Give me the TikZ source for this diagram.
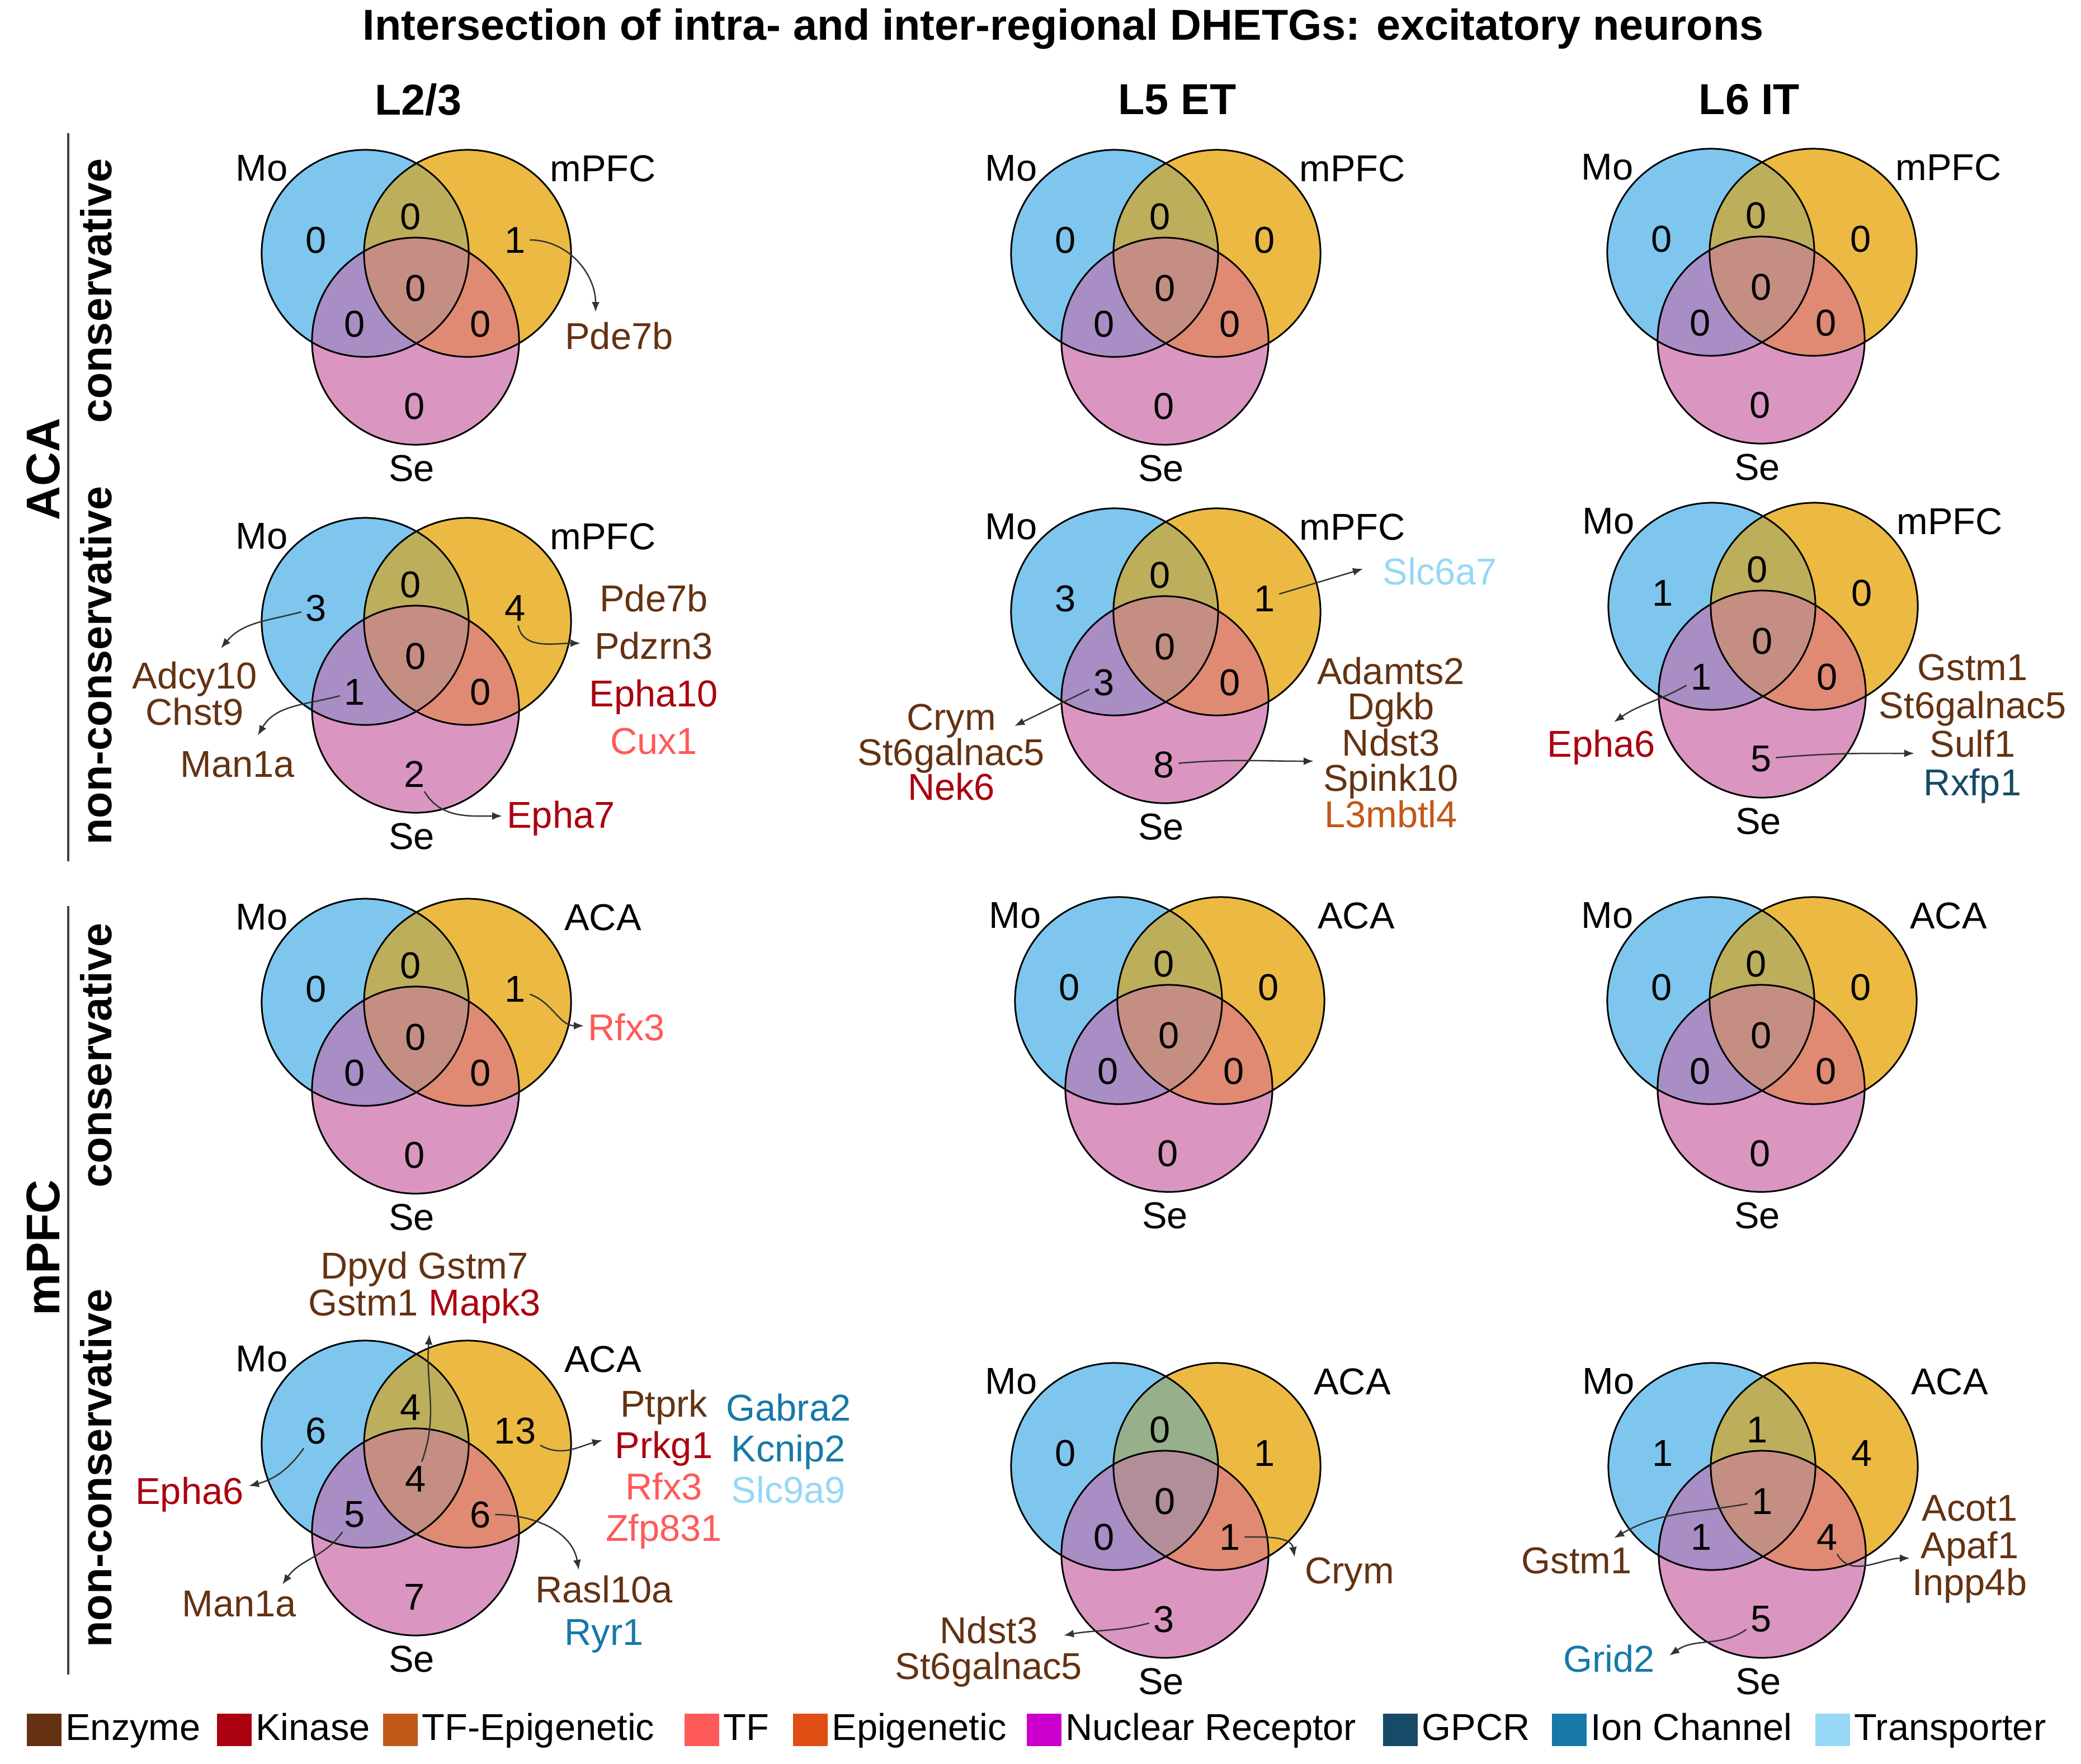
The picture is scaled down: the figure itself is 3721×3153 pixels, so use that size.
\documentclass[tikz,border=0pt]{standalone}
\usepackage{xcolor}
\usepackage{fontspec}
\setmainfont{Liberation Sans}
\usepackage{tikz}
\usetikzlibrary{positioning, arrows.meta}
\definecolor{vennmo}{RGB}{126,198,238}
\definecolor{vennx}{RGB}{236,186,66}
\definecolor{vennse}{RGB}{218,150,192}
\definecolor{vennmx}{RGB}{189,174,92}
\definecolor{vennmxg}{RGB}{150,176,140}
\definecolor{vennms}{RGB}{168,142,196}
\definecolor{vennxs}{RGB}{224,138,115}
\definecolor{vennall}{RGB}{196,142,130}
\definecolor{vennallg}{RGB}{178,142,152}
\definecolor{enzyme}{RGB}{100,50,18}
\definecolor{kinase}{RGB}{170,0,15}
\definecolor{tfepi}{RGB}{192,88,26}
\definecolor{tfactor}{RGB}{255,90,90}
\definecolor{epigen}{RGB}{224,78,20}
\definecolor{nucrec}{RGB}{204,0,204}
\definecolor{gpcr}{RGB}{22,74,102}
\definecolor{ionch}{RGB}{22,121,168}
\definecolor{transp}{RGB}{150,216,245}

\newcommand{\gEnz}[1]{\textcolor{enzyme}{#1}}
\newcommand{\gKin}[1]{\textcolor{kinase}{#1}}
\newcommand{\gTfe}[1]{\textcolor{tfepi}{#1}}
\newcommand{\gTf}[1]{\textcolor{tfactor}{#1}}
\newcommand{\gGpcr}[1]{\textcolor{gpcr}{#1}}
\newcommand{\gIon}[1]{\textcolor{ionch}{#1}}
\newcommand{\gTrn}[1]{\textcolor{transp}{#1}}

\tikzset{
    vennline/.style={draw=black, line width=0.85pt},
    num/.style={inner sep=2pt, font=\fontsize{19}{22}\selectfont},
    vlab/.style={inner sep=0pt, font=\fontsize{19}{22}\selectfont},
    genes/.style={align=center, inner sep=0pt, font=\fontsize{19}{#1}\selectfont},
    genes/.default=22,
    arr/.style={draw=black!80, line width=0.7pt, -{Latex[length=0.18cm, width=0.14cm]}},
    heading/.style={inner sep=0pt, font=\bfseries\fontsize{22}{26}\selectfont},
    rowlab/.style={inner sep=0pt, rotate=90, font=\bfseries\fontsize{22}{26}\selectfont},
    sepline/.style={draw=black!75, line width=1.4pt},
    swatch/.style={minimum width=0.62cm, minimum height=0.58cm, inner sep=0pt},
    legtxt/.style={inner sep=0pt, text height=0.5cm, text depth=0.13cm, font=\fontsize{19}{22}\selectfont}
}

\newcommand{\vrad}{1.85cm}
% #1 colour variant, #2 name, #3 centre of Mo circle, #4 second region
\newcommand{\venn}[4][]{%
    \begin{scope}[shift={(#3)}]
        \fill[vennmo] (0,0) circle[radius=\vrad];
        \fill[vennx] (183,0) circle[radius=\vrad];
        \fill[vennse] (90,157) circle[radius=\vrad];
        \begin{scope}
            \clip (0,0) circle[radius=\vrad];
            \fill[vennmx#1] (183,0) circle[radius=\vrad];
            \fill[vennms] (90,157) circle[radius=\vrad];
        \end{scope}
        \begin{scope}
            \clip (183,0) circle[radius=\vrad];
            \fill[vennxs] (90,157) circle[radius=\vrad];
        \end{scope}
        \begin{scope}
            \clip (0,0) circle[radius=\vrad];
            \clip (183,0) circle[radius=\vrad];
            \fill[vennall#1] (90,157) circle[radius=\vrad];
        \end{scope}
        \draw[vennline] (0,0) circle[radius=\vrad] (183,0) circle[radius=\vrad] (90,157) circle[radius=\vrad];
        \coordinate (#2-mo) at (-88,-24);
        \coordinate (#2-mx) at (81,-66);
        \coordinate (#2-x) at (268,-24);
        \coordinate (#2-all) at (90,62);
        \coordinate (#2-ms) at (-19,126);
        \coordinate (#2-xs) at (206,126);
        \coordinate (#2-se) at (88,273);
        \node[vlab] (#2-lmo) at (-185,-152) {Mo};
        \node[vlab] (#2-lx) at (425,-152) {#4};
        \node[vlab] (#2-lse) at (83,384) {Se};
    \end{scope}}
\newcommand{\vcounts}[8]{%
    \foreach \reg/\val in {mo/#2,mx/#3,x/#4,all/#5,ms/#6,xs/#7,se/#8}
        \node[num] (#1-n\reg) at (#1-\reg) {\val};}

\begin{document}
\begin{tikzpicture}[x=0.01cm, y=-0.01cm]
    \useasboundingbox (0,0) rectangle (3721,3153);

    \node[heading] (title) at (1901,52) {Intersection of intra- and inter-regional DHETGs: excitatory neurons};
    \node[heading] (col-l23) at (748,178) {L2/3};
    \node[heading] (col-l5et) at (2105,178) {L5 ET};
    \node[heading] (col-l6it) at (3128,178) {L6 IT};

    \draw[sepline] (122,238) -- (122,1540);
    \draw[sepline] (122,1620) -- (122,2994);
    \node[rowlab, font=\bfseries\fontsize{24}{28}\selectfont] (row-aca) at (77,839) {ACA};
    \node[rowlab, font=\bfseries\fontsize{24}{28}\selectfont] (row-mpfc) at (77,2231) {mPFC};
    \node[rowlab] (row-ac) at (172,520) {conservative};
    \node[rowlab] (row-an) at (172,1190) {non-conservative};
    \node[rowlab] (row-mc) at (172,1887) {conservative};
    \node[rowlab] (row-mn) at (172,2625) {non-conservative};

    % ACA, conservative
    \venn{ac1}{653,453}{mPFC}
    \vcounts{ac1}{0}{0}{1}{0}{0}{0}{0}
    \node[genes] (ac1-g1) at (1107,601) {\gEnz{Pde7b}};
    \coordinate (ac1-t1) at (1065,558);
    \draw[arr] (ac1-nx) to[out=0, in=90] (ac1-t1);

    \venn{ac2}{1993,453}{mPFC}
    \vcounts{ac2}{0}{0}{0}{0}{0}{0}{0}

    \venn{ac3}{3059,451}{mPFC}
    \vcounts{ac3}{0}{0}{0}{0}{0}{0}{0}

    % ACA, non-conservative
    \venn{an1}{653,1111}{mPFC}
    \vcounts{an1}{3}{0}{4}{0}{1}{0}{2}
    \node[genes=17.4] (an1-g1) at (348,1240) {\gEnz{Adcy10}\\\gEnz{Chst9}};
    \node[genes] (an1-g2) at (425,1367) {\gEnz{Man1a}};
    \node[genes=24.2] (an1-g3) at (1169,1197) {\gEnz{Pde7b}\\\gEnz{Pdzrn3}\\\gKin{Epha10}\\\gTf{Cux1}};
    \node[genes] (an1-g4) at (1003,1463) {\gKin{Epha7}};
    \coordinate (an1-t1) at (395,1159);
    \coordinate (an1-t2) at (461,1315);
    \coordinate (an1-t3) at (1038,1150);
    \coordinate (an1-t4) at (898,1459);
    \draw[arr] (an1-nmo) to[out=195, in=50] (an1-t1);
    \draw[arr] (an1-nms) to[out=195, in=60] (an1-t2);
    \draw[arr] (an1-nx) to[out=-80, in=180] (an1-t3);
    \draw[arr] (an1-nse) to[out=-60, in=180] (an1-t4);

    \venn{an2}{1993,1094}{mPFC}
    \vcounts{an2}{3}{0}{1}{0}{3}{0}{8}
    \node[genes] (an2-g1) at (2575,1022) {\gTrn{Slc6a7}};
    \node[genes=17.9] (an2-g2) at (1701,1345) {\gEnz{Crym}\\\gEnz{St6galnac5}\\\gKin{Nek6}};
    \node[genes=17.7] (an2-g3) at (2487,1328) {\gEnz{Adamts2}\\\gEnz{Dgkb}\\\gEnz{Ndst3}\\\gEnz{Spink10}\\\gTfe{L3mbtl4}};
    \coordinate (an2-t1) at (2437,1017);
    \coordinate (an2-t2) at (1814,1298);
    \coordinate (an2-t3) at (2349,1361);
    \draw[arr] (an2-nx) -- (an2-t1);
    \draw[arr] (an2-nms) -- (an2-t2);
    \draw[arr] (an2-nse) to[out=5, in=180] (an2-t3);

    \venn{an3}{3061,1084}{mPFC}
    \vcounts{an3}{1}{0}{0}{0}{1}{0}{5}
    \node[genes] (an3-g1) at (2863,1336) {\gKin{Epha6}};
    \node[genes=19.6] (an3-g2) at (3527,1303) {\gEnz{Gstm1}\\\gEnz{St6galnac5}\\\gEnz{Sulf1}\\\gGpcr{Rxfp1}};
    \coordinate (an3-t1) at (2886,1291);
    \coordinate (an3-t2) at (3423,1347);
    \draw[arr] (an3-nms) to[out=210, in=35] (an3-t1);
    \draw[arr] (an3-nse) to[out=5, in=180] (an3-t2);

    % mPFC, conservative
    \venn{mc1}{653,1792}{ACA}
    \vcounts{mc1}{0}{0}{1}{0}{0}{0}{0}
    \node[genes] (mc1-g1) at (1120,1837) {\gTf{Rfx3}};
    \coordinate (mc1-t1) at (1044,1834);
    \draw[arr] (mc1-nx) to[out=-20, in=180] (mc1-t1);

    \venn{mc2}{2000,1789}{ACA}
    \vcounts{mc2}{0}{0}{0}{0}{0}{0}{0}

    \venn{mc3}{3059,1789}{ACA}
    \vcounts{mc3}{0}{0}{0}{0}{0}{0}{0}

    % mPFC, non-conservative
    \venn{mn1}{653,2582}{ACA}
    \vcounts{mn1}{6}{4}{13}{4}{5}{6}{7}
    \node[genes=17.6] (mn1-g1) at (759,2302) {\gEnz{Dpyd} \gEnz{Gstm7}\\\gEnz{Gstm1} \gKin{Mapk3}};
    \node[genes] (mn1-g2) at (339,2672) {\gKin{Epha6}};
    \node[genes] (mn1-g3) at (428,2868) {\gEnz{Man1a}};
    \node[genes=21] (mn1-g4) at (1187,2627) {\gEnz{Ptprk}\\\gKin{Prkg1}\\\gTf{Rfx3}\\\gTf{Zfp831}};
    \node[genes=21] (mn1-g5) at (1410,2590) {\gIon{Gabra2}\\\gIon{Kcnip2}\\\gTrn{Slc9a9}};
    \node[genes=21.6] (mn1-g6) at (1080,2886) {\gEnz{Rasl10a}\\\gIon{Ryr1}};
    \coordinate (mn1-t1) at (768,2386);
    \coordinate (mn1-t2) at (445,2657);
    \coordinate (mn1-t3) at (505,2833);
    \coordinate (mn1-t4) at (1077,2575);
    \coordinate (mn1-t5) at (1035,2807);
    \draw[arr] (mn1-nall) to[out=70, in=-95] (mn1-t1);
    \draw[arr] (mn1-nmo) to[out=235, in=15] (mn1-t2);
    \draw[arr] (mn1-nms) to[out=235, in=55] (mn1-t3);
    \draw[arr] (mn1-nx) to[out=-30, in=195] (mn1-t4);
    \draw[arr] (mn1-nxs) to[out=0, in=100] (mn1-t5);

    \venn[g]{mn2}{1993,2622}{ACA}
    \vcounts{mn2}{0}{0}{1}{0}{0}{1}{3}
    \node[genes] (mn2-g1) at (2413,2815) {\gEnz{Crym}};
    \node[genes=18.2] (mn2-g2) at (1768,2953) {\gEnz{Ndst3}\\\gEnz{St6galnac5}};
    \coordinate (mn2-t1) at (2315,2784);
    \coordinate (mn2-t2) at (1902,2924);
    \draw[arr] (mn2-nxs) to[out=0, in=100] (mn2-t1);
    \draw[arr] (mn2-nse) to[out=195, in=10] (mn2-t2);

    \venn{mn3}{3061,2622}{ACA}
    \vcounts{mn3}{1}{1}{4}{1}{1}{4}{5}
    \node[genes] (mn3-g1) at (2819,2790) {\gEnz{Gstm1}};
    \node[genes=18.8] (mn3-g2) at (3522,2770) {\gEnz{Acot1}\\\gEnz{Apaf1}\\\gEnz{Inpp4b}};
    \node[genes] (mn3-g3) at (2877,2966) {\gIon{Grid2}};
    \coordinate (mn3-t1) at (2886,2750);
    \coordinate (mn3-t2) at (3415,2786);
    \coordinate (mn3-t3) at (2985,2960);
    \draw[arr] (mn3-nall) to[out=190, in=30] (mn3-t1);
    \draw[arr] (mn3-nxs) to[out=-60, in=180] (mn3-t2);
    \draw[arr] (mn3-nse) to[out=215, in=35] (mn3-t3);

    % legend
    \foreach \lgkey/\lgcol/\lgtext/\lgx in {enz/enzyme/Enzyme/48, kin/kinase/Kinase/388,
        tfe/tfepi/TF-Epigenetic/685, tf/tfactor/TF/1224, epi/epigen/Epigenetic/1418,
        nr/nucrec/Nuclear Receptor/1836, gp/gpcr/GPCR/2473, ion/ionch/Ion Channel/2775,
        trn/transp/Transporter/3246}
    {
        \node[swatch, fill=\lgcol] (key-\lgkey) at (\lgx+31,3093) {};
        \node[legtxt, right=0.06cm of key-\lgkey] (keytxt-\lgkey) {\lgtext};
    }
\end{tikzpicture}
\end{document}
